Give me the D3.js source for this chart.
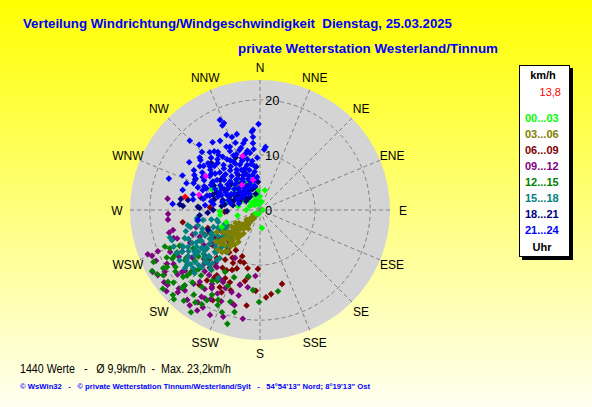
<!DOCTYPE html>
<html>
<head>
<meta charset="utf-8">
<script src="https://cdn.jsdelivr.net/npm/d3@7"></script>
<style>
  body { margin: 0; overflow: hidden; }
  svg { display: block; font-family: "Liberation Sans", Arial, sans-serif; }
</style>
</head>
<body>
<script>
// compass and speed grid
const compass = ["N","NNE","NE","ENE","E","ESE","SE","SSE","S","SSW","SW","WSW","W","WNW","NW","NNW"]
const ringValues = [10, 20]
const ringLabels = [0, 10, 20]
const maxSpeed = 23.6

const hourBins = ["00...03","03...06","06...09","09...12","12...15","15...18","18...21","21...24"]
const currentSpeed = "13,8"

// [direction in degrees, speed in km/h]
const p0003 = [[14,3.7],[174,3.3],[307,4.5],[310,2.8],[311,1.9],[313,3.7],[306,5.6],[312,5.4],[315,1.3],[333,4.1],
  [338,2.9],[343,1.9],[324,6.8],[342,4.6],[299,8.3],[293,9.5],[263,7.3],[246,7.6],[320,3],[300,3.5],[330,2],[350,1],
  [0,2.5],[10,1.5],[290,2],[318,6],[305,7],[296,6],[325,4.8],[355,3.5],[280,4],[270,2.5],[230,1],[200,0.8],[90,0.5],
  [335,5.5],[285,6],[268,7.3],[250,6.5],[256,4.2]]
const p0306 = [[225,1],[222,1.5],[228,2],[220,2.5],[230,2.8],[224,3.2],[218,3.6],[227,3.8],[232,4.2],[221,4.5],[226,5],
  [215,5.2],[229,5.5],[234,5.8],[223,6.2],[218,6.5],[228,6.8],[236,7],[222,7.3],[226,7.8],[231,8.2],[219,8.5],[225,9],
  [229,9.4],[243,8.8],[240,6],[238,4.5],[212,4],[235,3],[217,2],[233,1.5],[220,9.8],[224,5.8],[231,6.3],[227,2.5],
  [219,3],[214,7],[239,7.8],[242,5],[232,9],[223,4],[230,4.8],[226,6.5],[221,8],[228,9],[233,7.3],[217,5.8],[224,2],
  [229,3.3],[222,10.3],[227,10.5],[234,9.8],[218,9.5],[236,5.3],[216,7.8]]
const p0609 = [[201,9],[192,10.8],[182,10.7],[192,13.2],[183,14.7],[176,15.9],[172.5,15.4],[163.4,14],[188,17.5],
  [201,10],[207,10.8],[201.6,11.4],[190,12.4],[209,12.5],[213.5,14.2],[217,16],[207.5,15.8],[202.6,14.2],[245,10],
  [246,11],[251,10],[261,14.2],[273,9.1],[267,6.4],[243,12.2],[234,12.4],[233,10.7],[234,8.6],[220,9],[223,7.5],
  [211,8.5],[222,11.7],[221,13.9],[207,13.9],[219,17.5],[207.6,18.5],[228,10.5],[215,11],[238,9.5],[212,16.5],
  [216,9.5],[225,8],[213,12.5],[205,12],[197,10],[210,10],[218,13],[226,12.8],[200,15.5],[195,14],[205,16.5],
  [214,14.8],[229,13.5],[236,11],[241,8]]
const p0912 = [[264,16.8],[267.5,16.7],[257,16.2],[251,15.9],[248.5,21.9],[247,21.3],[237.5,22],[237,20.6],[233,21.8],
  [231,21.6],[231.5,18.1],[225,21.1],[216.4,21.5],[214,20.2],[212,18.9],[210.4,20.5],[184,12],[189,14.2],[195,14.1],
  [199,15.8],[204,15.5],[205.5,21.1],[189,20],[195,17.9],[197,17.6],[207,17],[211.6,16.7],[207,14.7],[207.5,9.8],
  [277,16.9],[240,17],[235,15],[228,16.5],[222,18],[218,15],[225,19.5],[232,19],[240,19.5],[245,14],[238,12],[230,13],
  [220,12.5],[215,17.5],[210,14.5],[242,16],[226,14],[236,21],[250,13],[255,12],[260,11.5],[245,18],[214,19],[219,21],
  [248,20],[244,21],[238,18.5],[231,17.5],[226,20.5],[222,15],[217,13],[213,16],[209,18.5],[203,18],[199,20.5],
  [194,16],[229,22.5],[252,16.5],[256,17],[234,10.5],[223,20],[240,22.5],[246,12],[212,21.5],[220,17]]
const p1215 = [[240.5,22.5],[238.5,19.8],[236,21.2],[232,21.2],[225.7,22.1],[225,20],[225,19.3],[214,22.4],[211.7,20.1],
  [210.5,19],[228,17.8],[227,16.1],[236,16.4],[241,18.2],[247,17.8],[243,16.9],[209.5,17.7],[204,18.9],[194,19.1],
  [209.5,12.9],[201,13.1],[190,12.2],[185,14.6],[180.6,16.7],[167.5,15.1],[200.4,19.8],[232,15],[236,18.5],[228,17],
  [222,16],[218,19.5],[243,19],[230,20.5],[238,22],[226,13.5],[214,15.5],[220,21.5],[246,16],[240,14],[234,12],
  [239,20.5],[234,19],[229,18.5],[223,18],[217,17.5],[211,15],[244,21.5],[249,18.5],[224,22.5],[231,22.7],[215,20.5],
  [205,18],[198,17.5],[237,16],[242,17.5],[219,14],[226,15.5],[233,14],[203,15],[196,21.5]]
const p1518 = [[253,17.1],[258,13.4],[256,11.6],[249.5,14.6],[244,13.7],[237,12.6],[241.7,16.1],[235,14.4],[226.6,13.8],
  [229,16.1],[233,16.6],[254,7.9],[244.4,9.7],[233,9.7],[234.4,11.9],[234,8.3],[218,9.7],[224.5,13.5],[211.7,14.5],
  [262.8,11.5],[249,11.3],[257,8],[247,8.3],[228,7.3],[234,12.4],[226.8,12.5],[220.7,12],[225.5,14.8],[225,1.3],
  [218.7,2.3],[218.7,3.5],[243.4,8.1],[242.6,17],[244.3,15.5],[251,16.9],[261,11.5],[260,10.5],[233,10],[238,14],
  [232,13],[228,15],[245,15.5],[250,12.5],[226,11],[240,10.5],[236,16],[247,10],[230,10.5],[222,13],[242,12],[254,14],
  [250,9],[235,12],[245,11],[239,9],[231,8.5],[228,12.5],[236,13.5],[243,13],[248,14],[252,11],[256,13],[240,15],
  [232,16],[226,16.5],[220,14],[224,9],[237,7],[244,6.5],[230,6],[248,7],[259,9],[247,17],
  [228,4.9],[232,6.5],[233.4,7.9],[234.5,9.4],[235.8,11],[236.8,12.6],[237,14.1],[237.4,15.5],[238,17.2],[242.8,7.2],
  [242.5,9.8],[243.4,12.2],[242.8,14.7],[221.6,8.8],[227,11.2],[228.9,13.3],[231.3,15.1],[232.3,17.2],[219.8,11.4],
  [222.3,13.5],[239,10.2],[240,13.3],[235,16.3],[230,9],[226,9.8]]
const p1821 = [[267,9.5],[274,14.6],[273,14],[278,13.2],[278,14.5],[295,13],[338,7.3],[355,7.9],[290,5],[295,6],[300,4],
  [305,5],[310,3.5],[315,3],[320,4.5],[285,7],[280,5],[300,7.5],[310,6],[325,6],[330,5],[340,4],[345,3],[288,9],[276,7],
  [282,11],[298,9.5],[303,3],[272,11],[268,6],[335,10.5],[348,4.3],[356,5.1],[314,12.3],[273,11.3],[249,10.1],
  [293,4],[298,5],[303,7],[308,4.5],[313,4],[318,5.5],[323,3],[328,4],[287,5.5],[283,8.5],[279,6.5],[292,8.5],[307,9],
  [312,7],[270,8.5],[265,11],[300,10],[328,7.5]]
const p2124 = [[336,17.9],[337.5,17.1],[343,14.4],[339,14.2],[355,14.6],[354.5,13.3],[354,12.2],[359,15.6],[5,11.5],
  [4,11],[314.6,17.9],[317,16.2],[315,14.9],[310,14.1],[312,12.7],[289,17.5],[274,15.9],[284.5,14.5],[290,14.2],
  [279,12.3],[336,16.8],[336,14.9],[348,13],[319,13.9],[324,13],[334.5,12.7],[354,11.1],[354,14.3],[309,11.6],[294,15.4],
  [290,12],[292,10.5],[295,9],[296,13],[298,11.5],[300,8],[301,10],[303,12.5],[305,7],[305,9.5],[307,11],[309,6],
  [310,8.5],[311,12],[313,10],[314,7.5],[315,5.5],[316,9],[318,11.5],[319,6.5],[320,8],[321,10.5],[323,12.5],[324,5],
  [325,7],[326,9.5],[327,11],[329,6],[330,8.5],[331,10],[333,12],[334,7],[335,4.5],[336,9],[337,11],[339,6],[340,8],
  [341,10],[343,11.8],[344,5.5],[345,7.5],[346,9.5],[348,6.5],[349,8.5],[350,10.5],[352,7],[297,7],[302,5.5],[288,8],
  [285,10],[283,12.5],[312,4.5],[318,4],[327,3.5],[294,6.5],[300,12],[306,13.5],[322,13.5],[332,13],[287,6],[280,9],
  [282,7],[261,11.4],[287,4],[291,7.5],[293,11],[296,4.5],[299,6],[302,8.5],[304,11],[306,4],[308,7.5],[309,10.5],
  [312,9],[314,11.5],[316,6.5],[317,4],[319,10],[320,12],[322,7],[323,9],[325,11.8],[326,4.5],[328,8],[329,10.5],
  [331,6.5],[332,9.5],[334,11],[335,8],[337,5],[338,7],[340,9.5],[341,11.5],[342,6.5],[344,8.5],[345,10.5],[347,4.5],
  [348,11],[350,5.5],[351,9],[353,8],[355,6],[357,9.5],[289,11],[292,13],[297,10],[301,14],[304,15.5],[308,13],
  [311,14.5],[317,13],[325,15],[330,14.5],[340,13],[346,12.5],[298,13.5],[286,9.5],[283,5.5],[281,10.5],[277,8.5],
  [275,10],[294,8],[313,5]]
const extraPoints = [[342,10.3],[347,5.6],[324,5.6],[302,11.6],[284,11.4]]
const currentPoint = [[280,13.8]]

const series = [p0003, p0306, p0609, p0912, p1215, p1518, p1821, p2124]
const binColors = ["#00ff00","#808000","#800000","#800080","#008000","#008080","#000080","#0000ff"]
const drawOrder = [2, 3, 4, 5, 1, 0, 6, 7]

const cx = 260, cy = 210

const svg = d3.select("body").append("svg")
  .attr("width", 592)
  .attr("height", 407)

let grad = svg.append("defs").append("linearGradient")
  .attr("id", "bg").attr("x1", 0).attr("y1", 0).attr("x2", 0).attr("y2", 1)
grad.append("stop").attr("offset", "0%").attr("stop-color", "#ffff00")
grad.append("stop").attr("offset", "100%").attr("stop-color", "#fffff2")

svg.append("rect").attr("width", 592).attr("height", 407).attr("fill", "url(#bg)")

let r = d3.scaleLinear().domain([0, maxSpeed]).range([0, 130])
let a = d3.scaleLinear().domain([0, 360]).range([0, 2 * Math.PI])

let px = d => cx + r(d[1]) * Math.sin(a(d[0]))
let py = d => cy - r(d[1]) * Math.cos(a(d[0]))

let g = svg.append("g")

g.append("circle")
  .attr("cx", cx).attr("cy", cy).attr("r", r(maxSpeed))
  .attr("fill", "#d4d4d4")

g.selectAll(".ring")
  .data(ringValues)
  .join("circle")
    .attr("cx", cx).attr("cy", cy).attr("r", d => r(d))
    .attr("fill", "none")
    .attr("stroke", "#808080")
    .attr("stroke-width", 1)
    .attr("stroke-dasharray", "4,3")

g.selectAll(".spoke")
  .data(compass)
  .join("line")
    .attr("x1", cx).attr("y1", cy)
    .attr("x2", (d, i) => px([i * 22.5, maxSpeed]))
    .attr("y2", (d, i) => py([i * 22.5, maxSpeed]))
    .attr("stroke", "#808080")
    .attr("stroke-width", 1)
    .attr("stroke-dasharray", "4,3")

g.selectAll(".rlabel")
  .data(ringLabels)
  .join("text")
    .attr("x", cx + 5)
    .attr("y", d => cy - r(d) + 5)
    .style("font-size", "13px")
    .attr("fill", "#000")
    .text(d => d)

g.selectAll(".clabel")
  .data(compass)
  .join("text")
    .attr("x", (d, i) => cx + 143 * Math.sin(a(i * 22.5)))
    .attr("y", (d, i) => cy - 143 * Math.cos(a(i * 22.5)) + 4.5)
    .attr("text-anchor", "middle")
    .style("font-size", "12px")
    .attr("fill", "#000")
    .text(d => d)

let diamond = "M0,-3.3L3.3,0L0,3.3L-3.3,0Z"

function plotPoints(data, color) {
  g.append("g")
    .selectAll("path")
    .data(data)
    .join("path")
      .attr("d", diamond)
      .attr("transform", d => `translate(${px(d)},${py(d)})`)
      .attr("fill", color)
}

for (let i of drawOrder) plotPoints(series[i], binColors[i])
plotPoints(extraPoints, "#ff00ff")
plotPoints(currentPoint, "#ff0000")

// titles
svg.append("text")
  .attr("x", 23).attr("y", 28)
  .attr("fill", "#0000ff")
  .style("font-size", "13px").style("font-weight", "bold")
  .attr("textLength", 429).attr("lengthAdjust", "spacingAndGlyphs")
  .style("white-space", "pre")
  .text("Verteilung Windrichtung/Windgeschwindigkeit  Dienstag, 25.03.2025")

svg.append("text")
  .attr("x", 238).attr("y", 53)
  .attr("fill", "#0000ff")
  .style("font-size", "13px").style("font-weight", "bold")
  .attr("textLength", 260).attr("lengthAdjust", "spacingAndGlyphs")
  .text("private Wetterstation Westerland/Tinnum")

svg.append("text")
  .attr("x", 20).attr("y", 373)
  .attr("fill", "#000")
  .style("font-size", "12px")
  .style("white-space", "pre")
  .attr("textLength", 211).attr("lengthAdjust", "spacingAndGlyphs")
  .text("1440 Werte   -   Ø 9,9km/h  -  Max. 23,2km/h")

svg.append("text")
  .attr("x", 20).attr("y", 389)
  .attr("fill", "#0000ff")
  .style("font-size", "8px").style("font-weight", "bold")
  .style("white-space", "pre")
  .attr("textLength", 350).attr("lengthAdjust", "spacingAndGlyphs")
  .text("© WsWin32   -   © private Wetterstation Tinnum/Westerland/Sylt   -   54°54'13\" Nord; 8°19'13\" Ost")

// legend box
let lg = svg.append("g")
lg.append("rect").attr("x", 522).attr("y", 68).attr("width", 51).attr("height", 192).attr("fill", "#000")
lg.append("rect").attr("x", 519.5).attr("y", 65.5).attr("width", 50).attr("height", 191)
  .attr("fill", "#fff").attr("stroke", "#000").attr("stroke-width", 1)

lg.append("text").attr("x", 543).attr("y", 79).attr("text-anchor", "middle")
  .style("font-size", "11px").style("font-weight", "bold").text("km/h")
lg.append("text").attr("x", 561).attr("y", 96).attr("text-anchor", "end")
  .style("font-size", "11px").attr("fill", "#ff0000").text(currentSpeed)

lg.selectAll(".bin")
  .data(hourBins)
  .join("text")
    .attr("x", 525)
    .attr("y", (d, i) => 122 + i * 16)
    .style("font-size", "11px").style("font-weight", "bold")
    .attr("fill", (d, i) => binColors[i])
    .text(d => d)

lg.append("text").attr("x", 542).attr("y", 251).attr("text-anchor", "middle")
  .style("font-size", "11px").style("font-weight", "bold").text("Uhr")
</script>
</body>
</html>
